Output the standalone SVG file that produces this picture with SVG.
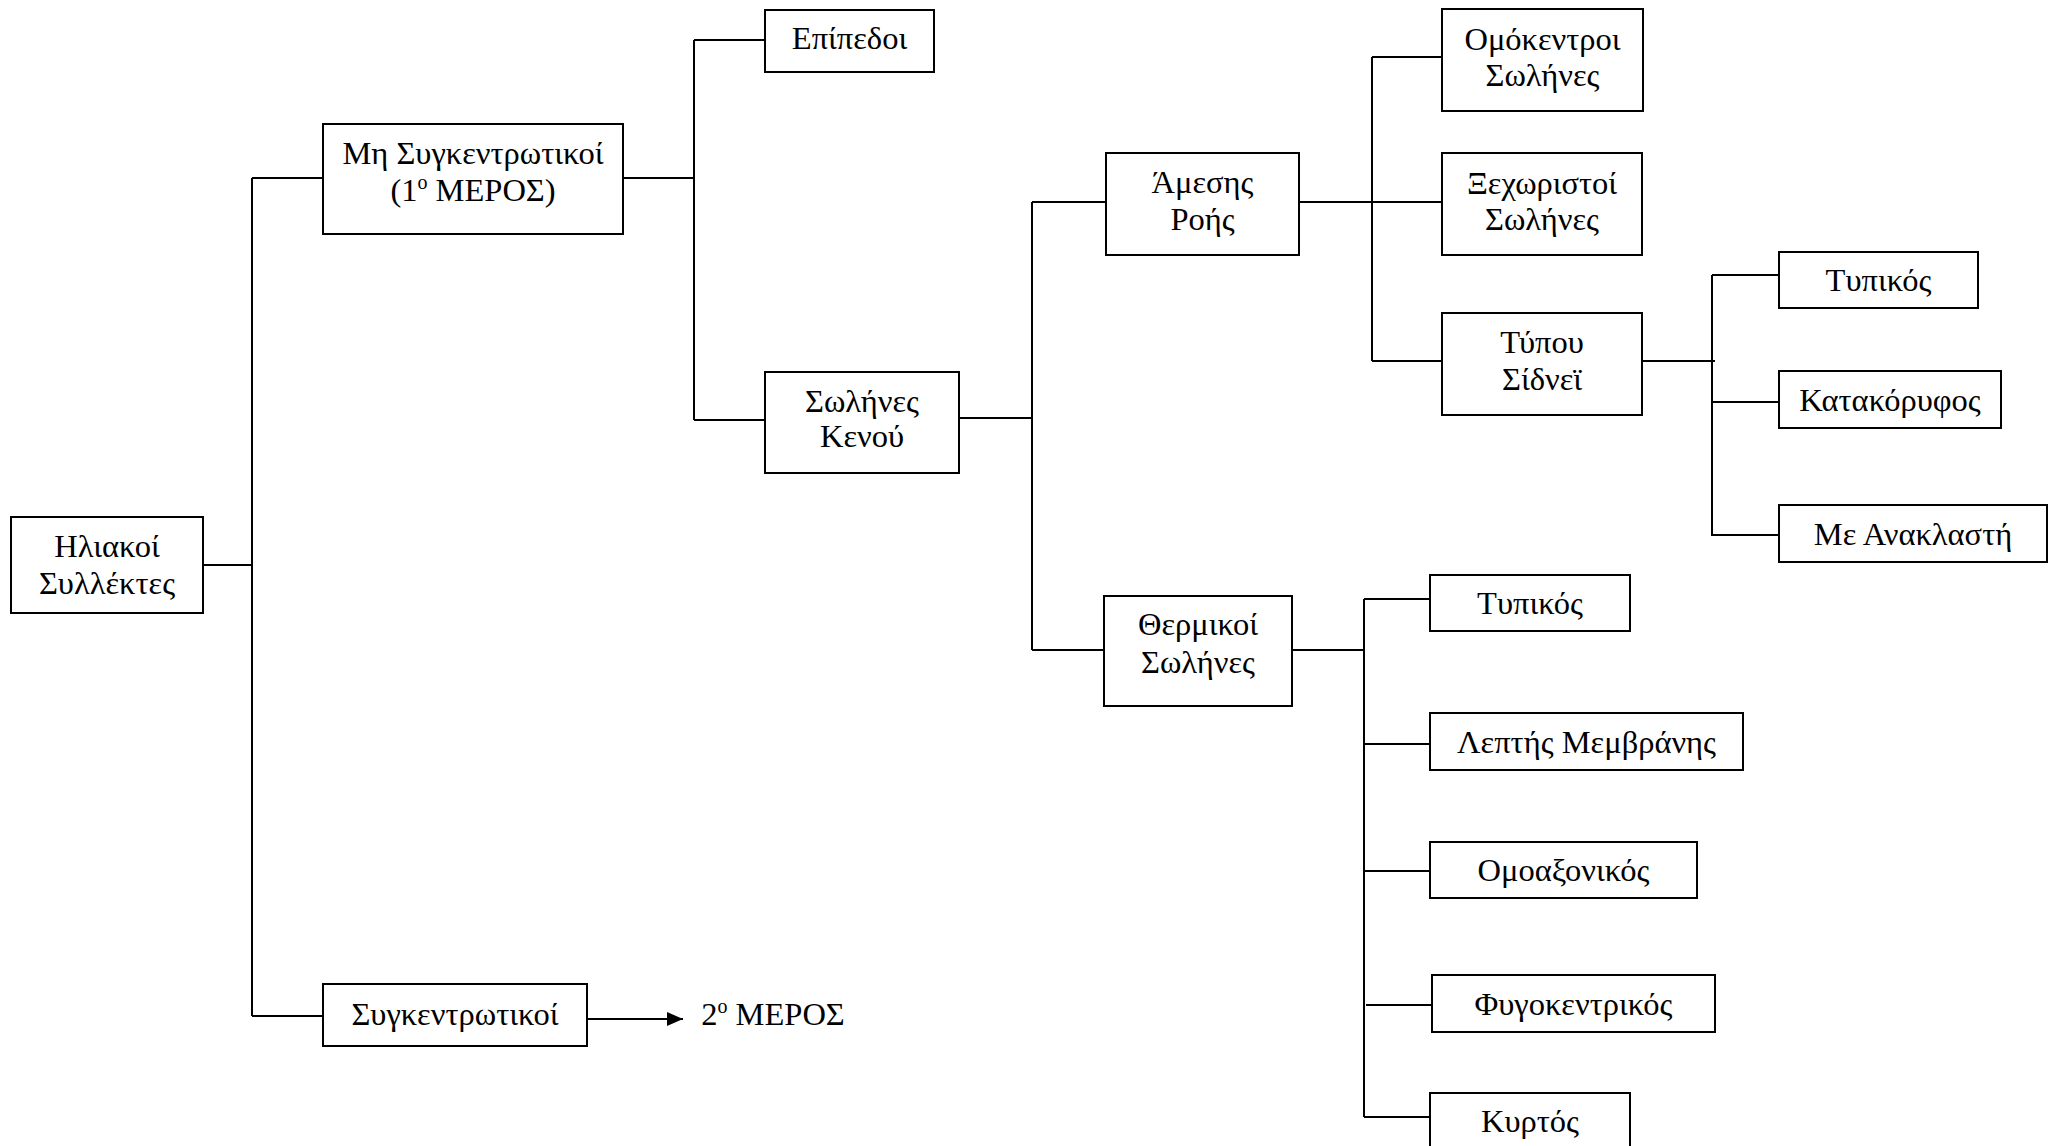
<svg xmlns="http://www.w3.org/2000/svg" width="2056" height="1146" viewBox="0 0 2056 1146">
<style>
  .box { fill: #ffffff; stroke: #000000; stroke-width: 2; }
  .lbl { font-family: "Liberation Serif", "Times New Roman", serif; font-size: 32.5px; fill: #000000; text-anchor: middle; }
  .con { fill: none; stroke: #000000; stroke-width: 2; }
  .sup { font-size: 20px; }
</style>
<defs>
  <marker id="arrow" viewBox="0 0 16 14" refX="16" refY="7" markerWidth="16" markerHeight="14" markerUnits="userSpaceOnUse" orient="auto">
    <path d="M0,0 L16,7 L0,14 Z" fill="#000000"/>
  </marker>
</defs>
<rect x="0" y="0" width="2056" height="1146" fill="#ffffff"/>

<g id="connectors">
  <path class="con" d="M203,565 H252"/>
  <path class="con" d="M252,178 V1016"/>
  <path class="con" d="M252,178 H323"/>
  <path class="con" d="M252,1016 H323"/>
  <path class="con" d="M623,178 H694"/>
  <path class="con" d="M694,40 V420"/>
  <path class="con" d="M694,40 H765"/>
  <path class="con" d="M694,420 H765"/>
  <path class="con" d="M959,418 H1032"/>
  <path class="con" d="M1032,202 V650"/>
  <path class="con" d="M1032,202 H1106"/>
  <path class="con" d="M1032,650 H1104"/>
  <path class="con" d="M1299,202 H1442"/>
  <path class="con" d="M1372,57 V361"/>
  <path class="con" d="M1372,57 H1442"/>
  <path class="con" d="M1372,361 H1442"/>
  <path class="con" d="M1642,361 H1715"/>
  <path class="con" d="M1712,275 V536"/>
  <path class="con" d="M1712,275 H1779"/>
  <path class="con" d="M1712,402 H1779"/>
  <path class="con" d="M1712,535 H1779"/>
  <path class="con" d="M1292,650 H1364"/>
  <path class="con" d="M1364,599 V1117"/>
  <path class="con" d="M1364,599 H1430"/>
  <path class="con" d="M1364,744 H1430"/>
  <path class="con" d="M1364,871 H1430"/>
  <path class="con" d="M1366,1005 H1432"/>
  <path class="con" d="M1364,1117 H1430"/>
  <path class="con" d="M587,1019 H683" marker-end="url(#arrow)"/>
</g>

<g id="n-iliakoi">
  <rect class="box" x="11" y="517" width="192" height="96"/>
  <text class="lbl" x="107" y="557">Ηλιακοί</text>
  <text class="lbl" x="107" y="594">Συλλέκτες</text>
</g>
<g id="n-mi-sygk">
  <rect class="box" x="323" y="124" width="300" height="110"/>
  <text class="lbl" x="473" y="164">Μη Συγκεντρωτικοί</text>
  <text class="lbl" x="473" y="201">(1<tspan class="sup" dy="-12">ο</tspan><tspan dy="12"> ΜΕΡΟΣ)</tspan></text>
</g>
<g id="n-sygk">
  <rect class="box" x="323" y="984" width="264" height="62"/>
  <text class="lbl" x="455" y="1025">Συγκεντρωτικοί</text>
</g>
<g id="n-meros2">
  <text class="lbl" x="773" y="1025">2<tspan class="sup" dy="-12">ο</tspan><tspan dy="12"> ΜΕΡΟΣ</tspan></text>
</g>
<g id="n-epipedoi">
  <rect class="box" x="765" y="10" width="169" height="62"/>
  <text class="lbl" x="849.5" y="49">Επίπεδοι</text>
</g>
<g id="n-kenou">
  <rect class="box" x="765" y="372" width="194" height="101"/>
  <text class="lbl" x="862" y="412">Σωλήνες</text>
  <text class="lbl" x="862" y="447">Κενού</text>
</g>
<g id="n-amesis">
  <rect class="box" x="1106" y="153" width="193" height="102"/>
  <text class="lbl" x="1202.5" y="193">Άμεσης</text>
  <text class="lbl" x="1202.5" y="230">Ροής</text>
</g>
<g id="n-thermikoi">
  <rect class="box" x="1104" y="596" width="188" height="110"/>
  <text class="lbl" x="1198" y="635">Θερμικοί</text>
  <text class="lbl" x="1198" y="673">Σωλήνες</text>
</g>
<g id="n-omokentroi">
  <rect class="box" x="1442" y="9" width="201" height="102"/>
  <text class="lbl" x="1542.5" y="50">Ομόκεντροι</text>
  <text class="lbl" x="1542.5" y="86">Σωλήνες</text>
</g>
<g id="n-xexoristoi">
  <rect class="box" x="1442" y="153" width="200" height="102"/>
  <text class="lbl" x="1542" y="194">Ξεχωριστοί</text>
  <text class="lbl" x="1542" y="230">Σωλήνες</text>
</g>
<g id="n-sidney">
  <rect class="box" x="1442" y="313" width="200" height="102"/>
  <text class="lbl" x="1542" y="353">Τύπου</text>
  <text class="lbl" x="1542" y="390">Σίδνεϊ</text>
</g>
<g id="n-typikos1">
  <rect class="box" x="1779" y="252" width="199" height="56"/>
  <text class="lbl" x="1878.5" y="291">Τυπικός</text>
</g>
<g id="n-katakoryfos">
  <rect class="box" x="1779" y="371" width="222" height="57"/>
  <text class="lbl" x="1890" y="411">Κατακόρυφος</text>
</g>
<g id="n-anaklasti">
  <rect class="box" x="1779" y="505" width="268" height="57"/>
  <text class="lbl" x="1913" y="545">Με Ανακλαστή</text>
</g>
<g id="n-typikos2">
  <rect class="box" x="1430" y="575" width="200" height="56"/>
  <text class="lbl" x="1530" y="614">Τυπικός</text>
</g>
<g id="n-leptis">
  <rect class="box" x="1430" y="713" width="313" height="57"/>
  <text class="lbl" x="1586.5" y="753">Λεπτής Μεμβράνης</text>
</g>
<g id="n-omoaxonikos">
  <rect class="box" x="1430" y="842" width="267" height="56"/>
  <text class="lbl" x="1563.5" y="881">Ομοαξονικός</text>
</g>
<g id="n-fygokentrikos">
  <rect class="box" x="1432" y="975" width="283" height="57"/>
  <text class="lbl" x="1573.5" y="1015">Φυγοκεντρικός</text>
</g>
<g id="n-kyrtos">
  <rect class="box" x="1430" y="1093" width="200" height="60"/>
  <text class="lbl" x="1530" y="1132">Κυρτός</text>
</g>
</svg>
